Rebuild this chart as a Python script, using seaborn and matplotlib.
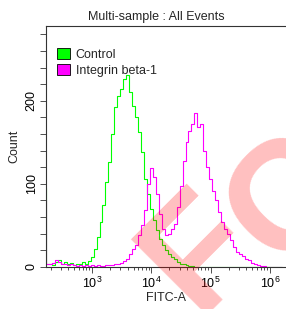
import numpy as np
import pandas as pd
import matplotlib as mpl
mpl.use("Agg")
import matplotlib.pyplot as plt
import matplotlib.ticker as mticker
from matplotlib.patches import Patch
import seaborn as sns

# ---- data: histogram counts per log10(FITC-A) bin centre --------------------
bin_log = [2.20, 2.25, 2.30, 2.35, 2.40, 2.45, 2.50, 2.55, 2.60, 2.65,
           2.70, 2.75, 2.80, 2.85, 2.90, 2.95, 3.00, 3.05, 3.10, 3.15,
           3.20, 3.25, 3.30, 3.35, 3.40, 3.45, 3.50, 3.55, 3.60, 3.65,
           3.70, 3.75, 3.80, 3.85, 3.90, 3.95, 4.00, 4.05, 4.10, 4.15,
           4.20, 4.25, 4.30, 4.35, 4.40, 4.45, 4.50, 4.55, 4.60, 4.65,
           4.70, 4.75, 4.80, 4.85, 4.90, 4.95, 5.00, 5.05, 5.10, 5.15,
           5.20, 5.25, 5.30, 5.35, 5.40, 5.45, 5.50, 5.55, 5.60, 5.65,
           5.70, 5.75, 5.80, 5.85, 5.90, 5.95, 6.00, 6.05, 6.10, 6.15,
           6.20]

control_counts = [95, 3, 4, 2, 6, 8, 4, 6, 3, 5,
                  2, 4, 3, 6, 4, 7, 12, 22, 36, 54,
                  74, 102, 126, 160, 192, 206, 214, 226, 231, 210,
                  194, 181, 163, 138, 106, 88, 70, 56, 44, 34,
                  26, 20, 16, 12, 9, 6, 4, 3, 2, 1,
                  1, 0, 0, 0, 0, 0, 0, 0, 0, 0,
                  0, 0, 0, 0, 0, 0, 0, 0, 0, 0,
                  0, 0, 0, 0, 0, 0, 0, 0, 0, 0,
                  0]

integrin_counts = [80, 4, 3, 5, 8, 6, 4, 3, 2, 3,
                   2, 1, 2, 1, 2, 1, 2, 1, 2, 1,
                   1, 2, 2, 2, 3, 3, 5, 7, 10, 16,
                   22, 27, 38, 50, 68, 100, 119, 108, 88, 64,
                   46, 38, 40, 46, 52, 72, 98, 128, 150, 164,
                   172, 185, 168, 172, 140, 120, 106, 92, 80, 66,
                   54, 46, 40, 33, 24, 18, 16, 13, 10, 8,
                   5, 3, 2, 1, 1, 0, 0, 0, 0, 0,
                   0]

samples = ["Control", "Integrin beta-1"]
colors = {"Control": "#00FF00", "Integrin beta-1": "#FF00FF"}

df = pd.concat([
    pd.DataFrame({"fitc": 10 ** np.array(bin_log), "count": control_counts,
                  "sample": "Control"}),
    pd.DataFrame({"fitc": 10 ** np.array(bin_log), "count": integrin_counts,
                  "sample": "Integrin beta-1"}),
], ignore_index=True)

sns.set_style("ticks")
plt.rcParams["font.family"] = ["Liberation Sans", "DejaVu Sans"]
plt.rcParams["font.size"] = 9

fig = plt.figure(figsize=(2.86, 3.09), dpi=100)
ax = fig.add_axes([0.161, 0.136, 0.839, 0.78])
ax.set_xscale("log")

sns.lineplot(data=df, x="fitc", y="count", hue="sample", palette=colors,
             hue_order=samples, drawstyle="steps-mid", linewidth=0.8,
             legend=False, ax=ax)

ax.set_xlim(10 ** 2.224, 10 ** 6.27)
ax.set_ylim(0, 290)

ax.xaxis.set_major_locator(mticker.FixedLocator([1e3, 1e4, 1e5, 1e6]))
ax.xaxis.set_major_formatter(mticker.LogFormatterMathtext())
ax.xaxis.set_minor_locator(mticker.LogLocator(base=10, subs=np.arange(2, 10)))
ax.xaxis.set_minor_formatter(mticker.NullFormatter())

ax.yaxis.set_major_locator(mticker.MultipleLocator(20))
ax.yaxis.set_major_formatter(
    mticker.FuncFormatter(lambda v, p: f"{int(v)}" if int(v) % 100 == 0 else ""))
plt.setp(ax.get_yticklabels(), rotation=90, va="center")

ax.tick_params(axis="both", which="major", length=4, width=0.6,
               colors="#333333", labelcolor="black", labelsize=9, pad=2)
ax.tick_params(axis="x", which="minor", length=2.5, width=0.6, colors="#333333")

for side in ["left", "bottom", "top"]:
    ax.spines[side].set_linewidth(0.8)
    ax.spines[side].set_color("#333333")
ax.spines["right"].set_visible(False)

ax.set_title("Multi-sample : All Events", fontsize=9, x=0.458, pad=4)
ax.set_xlabel("FITC-A", fontsize=9, labelpad=1)
ax.set_ylabel("Count", fontsize=9, labelpad=4)

handles = [Patch(facecolor=colors[s], edgecolor="black", linewidth=0.6)
           for s in samples]
ax.legend(handles, samples, loc="upper left", bbox_to_anchor=(0.046, 0.91),
          frameon=False, borderaxespad=0, borderpad=0, handlelength=1.0,
          handleheight=1.0, labelspacing=0.25, handletextpad=0.5, fontsize=9)

# watermark letters (placed one by one)
wm = dict(rotation=45, rotation_mode="anchor", ha="left", va="baseline",
          fontsize=112, fontweight="bold", color="red", alpha=0.25)
fig.text(0.685, -0.019, "F", **wm)
fig.text(0.981, 0.126, "C", **wm)

fig.savefig("out.png", dpi=100)
